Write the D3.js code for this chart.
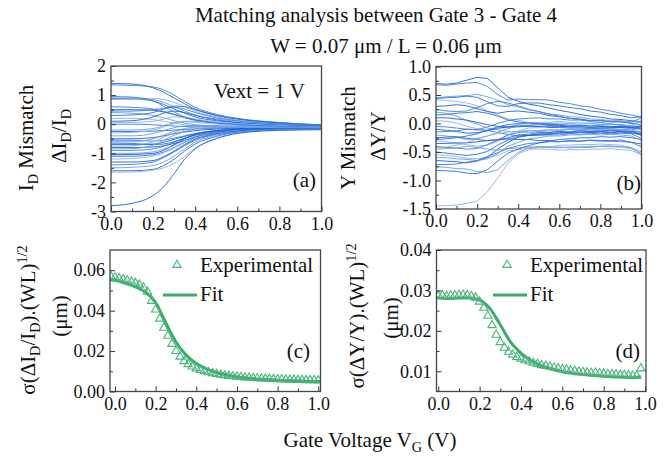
<!DOCTYPE html>
<html>
<head>
<meta charset="utf-8">
<script src="https://cdn.jsdelivr.net/npm/d3@7"></script>
<style>
  body { margin: 0; background: #fff; }
  svg, svg text { font-family: "Liberation Serif", "Times New Roman", Times, "DejaVu Serif", "Noto Serif", serif; }
  svg text { fill: #111; }
</style>
</head>
<body>
<div id="chart"></div>
<script>
const width = 670, height = 460;
const serif = '"Liberation Serif", "Times New Roman", Times, "DejaVu Serif", "Noto Serif", serif';

// ---- panel (a): ΔI_D/I_D mismatch curves ----
const vgA = [0, 0.1, 0.2, 0.25, 0.3, 0.35, 0.4, 0.5, 0.6, 0.8, 1.0];
const curvesA = [
  [1.40, 1.38, 1.25, 1.10, 0.90, 0.70, 0.52, 0.30, 0.18, 0.05, -0.02],
  [1.35, 1.33, 1.28, 1.18, 1.00, 0.78, 0.58, 0.34, 0.20, 0.06, -0.03],
  [0.90, 0.90, 0.85, 0.75, 0.60, 0.45, 0.32, 0.18, 0.10, 0.00, -0.06],
  [0.88, 0.87, 0.80, 0.68, 0.52, 0.38, 0.25, 0.12, 0.05, -0.03, -0.08],
  [0.85, 0.86, 0.88, 0.85, 0.75, 0.60, 0.45, 0.25, 0.14, 0.02, -0.05],
  [0.50, 0.50, 0.48, 0.42, 0.33, 0.22, 0.14, 0.05, 0.00, -0.06, -0.10],
  [0.45, 0.45, 0.50, 0.55, 0.58, 0.52, 0.40, 0.22, 0.12, 0.01, -0.05],
  [0.40, 0.38, 0.30, 0.22, 0.12, 0.04, -0.02, -0.06, -0.08, -0.10, -0.12],
  [0.30, 0.32, 0.40, 0.52, 0.62, 0.60, 0.50, 0.30, 0.18, 0.04, -0.04],
  [0.20, 0.20, 0.16, 0.10, 0.04, -0.02, -0.05, -0.08, -0.10, -0.11, -0.12],
  [0.10, 0.12, 0.25, 0.38, 0.45, 0.40, 0.30, 0.15, 0.06, -0.04, -0.08],
  [0.00, 0.00, -0.02, -0.04, -0.06, -0.08, -0.09, -0.10, -0.11, -0.12, -0.13],
  [-0.20, -0.20, -0.15, -0.05, 0.05, 0.10, 0.10, 0.05, 0.00, -0.06, -0.10],
  [-0.25, -0.25, -0.24, -0.22, -0.20, -0.18, -0.16, -0.14, -0.13, -0.13, -0.14],
  [-0.30, -0.28, -0.20, -0.10, 0.02, 0.08, 0.06, 0.00, -0.04, -0.09, -0.12],
  [-0.50, -0.50, -0.46, -0.40, -0.33, -0.27, -0.22, -0.17, -0.15, -0.14, -0.15],
  [-0.55, -0.55, -0.58, -0.55, -0.48, -0.40, -0.32, -0.22, -0.18, -0.15, -0.16],
  [-0.60, -0.60, -0.50, -0.38, -0.25, -0.15, -0.10, -0.08, -0.09, -0.11, -0.13],
  [-0.70, -0.70, -0.68, -0.62, -0.52, -0.42, -0.33, -0.23, -0.18, -0.15, -0.15],
  [-0.75, -0.74, -0.60, -0.45, -0.30, -0.20, -0.14, -0.10, -0.10, -0.12, -0.14],
  [-0.80, -0.80, -0.78, -0.74, -0.66, -0.55, -0.44, -0.30, -0.22, -0.16, -0.16],
  [-0.90, -0.90, -0.85, -0.76, -0.62, -0.48, -0.36, -0.24, -0.18, -0.14, -0.15],
  [-1.00, -1.00, -0.95, -0.86, -0.72, -0.56, -0.42, -0.27, -0.20, -0.15, -0.15],
  [-1.10, -1.10, -1.05, -0.96, -0.80, -0.62, -0.46, -0.30, -0.21, -0.16, -0.16],
  [-1.20, -1.18, -1.10, -0.98, -0.82, -0.64, -0.48, -0.31, -0.22, -0.16, -0.16],
  [-1.30, -1.30, -1.25, -1.12, -0.92, -0.70, -0.52, -0.33, -0.24, -0.17, -0.17],
  [-1.40, -1.38, -1.30, -1.15, -0.95, -0.74, -0.55, -0.35, -0.25, -0.18, -0.17],
  [-1.50, -1.48, -1.42, -1.30, -1.10, -0.85, -0.62, -0.38, -0.27, -0.19, -0.17],
  [-1.60, -1.60, -1.55, -1.42, -1.20, -0.92, -0.68, -0.42, -0.28, -0.19, -0.18],
  [-1.65, -1.64, -1.58, -1.50, -1.35, -1.10, -0.82, -0.48, -0.30, -0.20, -0.18],
  [-2.80, -2.72, -2.45, -2.15, -1.70, -1.20, -0.85, -0.50, -0.32, -0.21, -0.19],
  [0.60, 0.58, 0.52, 0.44, 0.34, 0.24, 0.16, 0.06, 0.01, -0.05, -0.09],
  [-0.40, -0.40, -0.32, -0.22, -0.12, -0.06, -0.04, -0.05, -0.07, -0.10, -0.12],
  [-0.65, -0.66, -0.70, -0.68, -0.60, -0.48, -0.38, -0.26, -0.19, -0.14, -0.14],
  [0.05, 0.06, 0.10, 0.18, 0.25, 0.24, 0.18, 0.08, 0.02, -0.05, -0.09],
  [-1.05, -1.04, -1.00, -0.90, -0.70, -0.50, -0.35, -0.22, -0.17, -0.14, -0.15],
  [0.95, 0.93, 0.80, 0.62, 0.42, 0.25, 0.14, 0.04, -0.02, -0.07, -0.10],
  [-0.85, -0.84, -0.72, -0.55, -0.38, -0.25, -0.17, -0.12, -0.11, -0.12, -0.13]
];

// ---- panel (b): ΔY/Y mismatch curves ----
const vgB = [0, 0.05, 0.1, 0.15, 0.2, 0.25, 0.3, 0.35, 0.4, 0.45, 0.5, 0.55, 0.6, 0.65, 0.7, 0.75, 0.8, 0.85, 0.9, 0.95, 1.0];
const curvesB = [
  [0.70, 0.69, 0.71, 0.76, 0.81, 0.79, 0.63, 0.46, 0.39, 0.34, 0.31, 0.27, 0.23, 0.20, 0.16, 0.13, 0.11, 0.08, 0.07, 0.05, 0.03],
  [0.68, 0.67, 0.69, 0.71, 0.72, 0.65, 0.51, 0.41, 0.43, 0.42, 0.42, 0.41, 0.37, 0.35, 0.31, 0.29, 0.25, 0.22, 0.18, 0.15, 0.11],
  [0.45, 0.47, 0.48, 0.49, 0.51, 0.47, 0.41, 0.33, 0.29, 0.24, 0.21, 0.17, 0.15, 0.12, 0.11, 0.08, 0.07, 0.05, 0.05, 0.03, 0.02],
  [0.44, 0.45, 0.46, 0.48, 0.46, 0.38, 0.31, 0.30, 0.35, 0.36, 0.36, 0.33, 0.31, 0.28, 0.26, 0.22, 0.20, 0.16, 0.14, 0.10, 0.12],
  [0.42, 0.40, 0.39, 0.36, 0.31, 0.22, 0.15, 0.08, 0.06, 0.02, 0.01, -0.02, -0.02, -0.04, -0.04, -0.05, -0.06, -0.05, -0.07, -0.08, -0.11],
  [0.30, 0.31, 0.33, 0.31, 0.26, 0.21, 0.18, 0.21, 0.22, 0.20, 0.18, 0.14, 0.12, 0.09, 0.08, 0.05, 0.05, 0.03, 0.03, 0.00, -0.02],
  [0.25, 0.22, 0.21, 0.22, 0.28, 0.35, 0.39, 0.36, 0.31, 0.25, 0.21, 0.16, 0.13, 0.09, 0.07, 0.03, 0.02, -0.01, -0.02, -0.05, -0.10],
  [0.20, 0.18, 0.13, 0.05, -0.01, -0.08, -0.11, -0.14, -0.14, -0.16, -0.14, -0.15, -0.13, -0.14, -0.12, -0.13, -0.12, -0.11, -0.13, -0.13, -0.16],
  [0.15, 0.16, 0.18, 0.19, 0.21, 0.18, 0.13, 0.06, 0.03, 0.00, -0.01, -0.03, -0.03, -0.05, -0.04, -0.06, -0.05, -0.06, -0.05, -0.07, -0.05],
  [0.05, 0.04, 0.01, -0.05, -0.09, -0.12, -0.10, -0.06, -0.02, 0.00, 0.02, 0.02, 0.04, 0.02, 0.02, 0.00, -0.01, -0.01, -0.03, -0.03, -0.02],
  [-0.10, -0.12, -0.14, -0.17, -0.16, -0.13, -0.08, -0.06, -0.04, -0.05, -0.05, -0.07, -0.07, -0.08, -0.08, -0.09, -0.09, -0.10, -0.10, -0.12, -0.21],
  [-0.15, -0.14, -0.13, -0.10, -0.11, -0.12, -0.16, -0.19, -0.22, -0.21, -0.21, -0.20, -0.20, -0.18, -0.19, -0.18, -0.17, -0.18, -0.17, -0.18, -0.26],
  [-0.20, -0.22, -0.24, -0.28, -0.26, -0.22, -0.15, -0.09, -0.04, -0.03, -0.01, 0.00, 0.01, 0.00, -0.01, 0.00, -0.02, -0.01, -0.03, -0.04, 0.05],
  [-0.25, -0.24, -0.23, -0.26, -0.28, -0.30, -0.28, -0.25, -0.20, -0.19, -0.16, -0.16, -0.14, -0.15, -0.13, -0.14, -0.13, -0.12, -0.13, -0.14, -0.15],
  [-0.30, -0.32, -0.35, -0.37, -0.40, -0.38, -0.31, -0.20, -0.13, -0.08, -0.07, -0.05, -0.06, -0.04, -0.06, -0.05, -0.07, -0.06, -0.07, -0.09, -0.10],
  [-0.35, -0.35, -0.34, -0.34, -0.32, -0.30, -0.29, -0.27, -0.28, -0.28, -0.30, -0.30, -0.32, -0.30, -0.31, -0.29, -0.30, -0.30, -0.29, -0.33, -0.36],
  [-0.40, -0.42, -0.43, -0.45, -0.44, -0.37, -0.29, -0.20, -0.16, -0.13, -0.13, -0.11, -0.12, -0.10, -0.11, -0.10, -0.10, -0.09, -0.11, -0.12, -0.05],
  [-0.45, -0.44, -0.43, -0.40, -0.42, -0.45, -0.47, -0.44, -0.43, -0.41, -0.42, -0.42, -0.43, -0.41, -0.41, -0.40, -0.40, -0.39, -0.41, -0.42, -0.50],
  [-0.50, -0.52, -0.54, -0.56, -0.54, -0.49, -0.38, -0.29, -0.22, -0.21, -0.19, -0.19, -0.17, -0.17, -0.16, -0.16, -0.15, -0.16, -0.15, -0.17, -0.18],
  [-0.55, -0.56, -0.58, -0.61, -0.62, -0.60, -0.56, -0.48, -0.46, -0.44, -0.45, -0.45, -0.47, -0.46, -0.46, -0.45, -0.45, -0.44, -0.46, -0.47, -0.55],
  [-0.65, -0.66, -0.67, -0.69, -0.66, -0.59, -0.45, -0.33, -0.24, -0.21, -0.18, -0.18, -0.16, -0.16, -0.15, -0.15, -0.14, -0.15, -0.14, -0.16, -0.20],
  [-0.72, -0.72, -0.71, -0.68, -0.65, -0.58, -0.51, -0.44, -0.39, -0.35, -0.34, -0.32, -0.32, -0.31, -0.31, -0.30, -0.31, -0.31, -0.32, -0.33, -0.41],
  [-0.76, -0.77, -0.79, -0.80, -0.84, -0.86, -0.81, -0.65, -0.51, -0.43, -0.40, -0.41, -0.41, -0.43, -0.42, -0.42, -0.40, -0.41, -0.41, -0.44, -0.53],
  [-0.82, -0.83, -0.84, -0.87, -0.88, -0.81, -0.66, -0.52, -0.45, -0.39, -0.34, -0.31, -0.28, -0.27, -0.25, -0.25, -0.23, -0.24, -0.23, -0.25, -0.28],
  [-1.45, -1.44, -1.43, -1.40, -1.36, -1.20, -0.96, -0.70, -0.53, -0.46, -0.42, -0.41, -0.38, -0.38, -0.37, -0.37, -0.36, -0.37, -0.38, -0.42, -0.55],
  [0.10, 0.10, 0.08, 0.06, 0.02, -0.02, -0.05, -0.06, -0.06, -0.04, -0.05, -0.04, -0.05, -0.06, -0.06, -0.07, -0.06, -0.07, -0.07, -0.08, -0.08],
  [-0.05, -0.06, -0.08, -0.10, -0.11, -0.06, 0.00, 0.05, 0.08, 0.09, 0.10, 0.08, 0.08, 0.06, 0.06, 0.05, 0.05, 0.03, 0.03, 0.02, 0.10],
  [-0.60, -0.60, -0.62, -0.63, -0.65, -0.62, -0.53, -0.40, -0.33, -0.27, -0.25, -0.22, -0.22, -0.20, -0.20, -0.19, -0.20, -0.19, -0.20, -0.22, -0.30],
  [-0.28, -0.27, -0.25, -0.22, -0.18, -0.12, -0.06, -0.02, 0.00, 0.01, 0.00, -0.01, -0.02, -0.03, -0.03, -0.04, -0.04, -0.05, -0.05, -0.06, -0.04],
  [-0.42, -0.41, -0.38, -0.33, -0.27, -0.22, -0.18, -0.15, -0.14, -0.12, -0.12, -0.11, -0.11, -0.10, -0.10, -0.10, -0.11, -0.10, -0.11, -0.12, -0.14]
];

// ---- panel (c): σ(ΔI_D/I_D)·√(WL) ----
const expXC = [-0.02, 0, 0.02, 0.04, 0.06, 0.08, 0.1, 0.12, 0.14, 0.16, 0.18, 0.2, 0.22, 0.24, 0.26, 0.28, 0.3, 0.32, 0.34, 0.36,
  0.38, 0.4, 0.42, 0.44, 0.46, 0.48, 0.5, 0.52, 0.54, 0.56, 0.58, 0.6, 0.62, 0.64, 0.66, 0.68, 0.7, 0.72, 0.74, 0.76,
  0.78, 0.8, 0.82, 0.84, 0.86, 0.88, 0.9, 0.92, 0.94, 0.96, 0.98, 1.0];
const expC = [0.0570, 0.0565, 0.0560, 0.0555, 0.0550, 0.0544, 0.0537, 0.0528, 0.0514, 0.0493, 0.0448, 0.0405, 0.0360, 0.0315, 0.0275, 0.0235,
  0.0200, 0.0172, 0.0150, 0.0135, 0.0123, 0.0114, 0.0106, 0.0100, 0.0095, 0.0090, 0.0086, 0.0083, 0.0080, 0.0077, 0.0075, 0.0073,
  0.0071, 0.0069, 0.0068, 0.0066, 0.0065, 0.0064, 0.0063, 0.0062, 0.0061, 0.0060, 0.0060, 0.0059, 0.0058, 0.0058, 0.0057, 0.0057,
  0.0056, 0.0056, 0.0055, 0.0054];
const fitXC = [-0.025, 0, 0.05, 0.1, 0.15, 0.2, 0.25, 0.3, 0.35, 0.4, 0.45, 0.5, 0.6, 0.7, 0.8, 0.9, 1.0, 1.011];
const fitC = [0.0553, 0.0550, 0.0536, 0.0518, 0.0492, 0.0440, 0.0340, 0.0245, 0.0180, 0.0138, 0.0112, 0.0094, 0.0073, 0.0062, 0.0056, 0.0052, 0.0049, 0.0049];

// ---- panel (d): σ(ΔY/Y)·√(WL) ----
const expXD = [0, 0.02, 0.04, 0.06, 0.08, 0.1, 0.12, 0.14, 0.16, 0.18, 0.2, 0.22, 0.24, 0.26, 0.28, 0.3, 0.32, 0.34, 0.36, 0.38,
  0.4, 0.42, 0.44, 0.46, 0.48, 0.5, 0.52, 0.54, 0.56, 0.58, 0.6, 0.62, 0.64, 0.66, 0.68, 0.7, 0.72, 0.74, 0.76, 0.78,
  0.8, 0.82, 0.84, 0.86, 0.88, 0.9, 0.92, 0.94, 0.96, 0.98];
const expD = [0.0287, 0.0288, 0.0286, 0.0287, 0.0288, 0.0289, 0.0289, 0.0288, 0.0286, 0.0282, 0.0272, 0.0257, 0.0237, 0.0214, 0.0190, 0.0172,
  0.0158, 0.0148, 0.0141, 0.0135, 0.0131, 0.0127, 0.0124, 0.0121, 0.0118, 0.0115, 0.0113, 0.0111, 0.0109, 0.0107, 0.0105, 0.0104,
  0.0102, 0.0101, 0.0099, 0.0098, 0.0097, 0.0096, 0.0096, 0.0095, 0.0094, 0.0093, 0.0093, 0.0092, 0.0091, 0.0091, 0.0090, 0.0089,
  0.0089, 0.0107];
const fitXD = [-0.009, 0, 0.05, 0.1, 0.15, 0.2, 0.25, 0.3, 0.35, 0.4, 0.45, 0.5, 0.6, 0.7, 0.8, 0.9, 0.95, 0.98];
const fitD = [0.0281, 0.0281, 0.0280, 0.0281, 0.0281, 0.0276, 0.0255, 0.0215, 0.0172, 0.0145, 0.0126, 0.0114, 0.0099, 0.0092, 0.0088, 0.0085, 0.0084, 0.0087];

const blues = ["#1b5fd8", "#3b7edf", "#6a9ce2", "#2a6cda", "#8db2e6"];
const green = "#3dab6b";

const svg = d3.select("#chart").append("svg")
  .attr("width", width).attr("height", height)
  .attr("font-family", serif);

function rich(t, parts, fs) {
  let shift = 0;
  parts.forEach(([s, k]) => {
    const target = k === "sub" ? fs * 0.25 : k === "sup" ? -fs * 0.4 : 0;
    t.append("tspan").attr("dy", target - shift)
      .attr("font-size", k === "n" ? fs : fs * 0.68).text(s);
    shift = target;
  });
}

function panel(id, box, xd, yd, yMajor, yMinor, xMajor, xMinor, fmtY) {
  const x = d3.scaleLinear().domain(xd).range([box.l, box.r]);
  const y = d3.scaleLinear().domain(yd).range([box.b, box.t]);
  svg.append("clipPath").attr("id", "clip" + id).append("rect")
    .attr("x", box.l).attr("y", box.t).attr("width", box.r - box.l).attr("height", box.b - box.t);
  const data = svg.append("g").attr("clip-path", `url(#clip${id})`);
  const ax = svg.append("g").attr("color", "#333");

  const styleAxis = g => {
    g.select(".domain").remove();
    g.attr("font-family", serif).attr("font-size", 18);
    g.selectAll("text").attr("fill", "#111");
  };
  ax.append("g").attr("transform", `translate(${box.l},0)`)
    .call(d3.axisLeft(y).tickValues(yMajor).tickSizeInner(-5).tickSizeOuter(0).tickPadding(5).tickFormat(fmtY))
    .call(styleAxis);
  ax.append("g").attr("transform", `translate(${box.l},0)`)
    .call(d3.axisLeft(y).tickValues(yMinor).tickSizeInner(-3).tickSizeOuter(0).tickFormat(""))
    .call(styleAxis);
  ax.append("g").attr("transform", `translate(0,${box.b})`)
    .call(d3.axisBottom(x).tickValues(xMajor).tickSizeInner(-5).tickSizeOuter(0).tickPadding(5.5).tickFormat(d => d.toFixed(1)))
    .call(styleAxis);
  ax.append("g").attr("transform", `translate(0,${box.b})`)
    .call(d3.axisBottom(x).tickValues(xMinor).tickSizeInner(-3).tickSizeOuter(0).tickFormat(""))
    .call(styleAxis);
  ax.append("rect")
    .attr("x", box.l).attr("y", box.t).attr("width", box.r - box.l).attr("height", box.b - box.t)
    .attr("fill", "none").attr("stroke", "#444").attr("stroke-width", 1.3);
  return { x, y, data, ax };
}

const xMaj = [0, 0.2, 0.4, 0.6, 0.8, 1.0];
const xMin = [0.1, 0.3, 0.5, 0.7, 0.9];

// (a)
const pa = panel("a", { l: 111, r: 321.5, t: 66, b: 211.5 }, [0, 1], [-3, 2],
  [-3, -2, -1, 0, 1, 2], [-2.5, -1.5, -0.5, 0.5, 1.5], xMaj, xMin, d => String(d));
const lineA = d3.line().x((d, i) => pa.x(vgA[i])).y(d => pa.y(d)).curve(d3.curveMonotoneX);
pa.data.selectAll("path").data(curvesA).join("path")
  .attr("d", lineA).attr("fill", "none")
  .attr("stroke", (d, i) => blues[i % blues.length]).attr("stroke-width", 0.9);

// (b)
const pb = panel("b", { l: 436, r: 641.5, t: 66.5, b: 209 }, [0, 1], [-1.5, 1],
  [-1.5, -1.0, -0.5, 0, 0.5, 1.0], [-1.25, -0.75, -0.25, 0.25, 0.75], xMaj, xMin, d => d.toFixed(1));
const lineB = d3.line().x((d, i) => pb.x(vgB[i])).y(d => pb.y(d));
pb.data.selectAll("path").data(curvesB).join("path")
  .attr("d", lineB).attr("fill", "none")
  .attr("stroke", (d, i) => blues[i % blues.length]).attr("stroke-width", 0.9);

// (c)
const pc = panel("c", { l: 110, r: 320.5, t: 250, b: 391.5 }, [-0.0246, 1.011], [0, 0.07],
  [0, 0.02, 0.04, 0.06], [0.01, 0.03, 0.05], xMaj, xMin, d => d.toFixed(2));
// (d)
const pd = panel("d", { l: 436.5, r: 646, t: 250, b: 391.5 }, [-0.0087, 1.0048], [0.005, 0.04],
  [0.01, 0.02, 0.03, 0.04], [0.015, 0.025, 0.035], xMaj, xMin, d => d.toFixed(2));

const tri = d3.symbol().type(d3.symbolTriangle).size(30);
function sigmaPanel(p, ex, ey, fx, fy) {
  p.data.append("path")
    .datum(fy)
    .attr("d", d3.line().x((d, i) => p.x(fx[i])).y(d => p.y(d)).curve(d3.curveMonotoneX))
    .attr("fill", "none").attr("stroke", green).attr("stroke-width", 3);
  p.data.selectAll("path.tri").data(ey).join("path").attr("class", "tri")
    .attr("d", tri)
    .attr("transform", (d, i) => `translate(${p.x(ex[i])},${p.y(d)})`)
    .attr("fill", "none").attr("stroke", "#4bb47b").attr("stroke-width", 1.1);
}
sigmaPanel(pc, expXC, expC, fitXC, fitC);
sigmaPanel(pd, expXD, expD, fitXD, fitD);

// legends
function legend(tx, ty) {
  svg.append("path").attr("d", tri).attr("transform", `translate(${tx - 23},${ty - 7})`)
    .attr("fill", "none").attr("stroke", "#4bb47b").attr("stroke-width", 1.1);
  svg.append("text").attr("x", tx).attr("y", ty).attr("font-size", 21).text("Experimental");
  svg.append("line").attr("x1", tx - 37).attr("x2", tx - 3).attr("y1", ty + 23).attr("y2", ty + 23)
    .attr("stroke", green).attr("stroke-width", 3);
  svg.append("text").attr("x", tx).attr("y", ty + 29).attr("font-size", 21).text("Fit");
}
legend(200, 272);
legend(530, 272);

// panel tags
const tag = (x, y, s) => svg.append("text").attr("x", x).attr("y", y)
  .attr("text-anchor", "end").attr("font-size", 21).text(s);
tag(316, 187, "(a)");
tag(641, 190, "(b)");
tag(310, 358, "(c)");
tag(640, 358, "(d)");
svg.append("text").attr("x", 305).attr("y", 98).attr("text-anchor", "end")
  .attr("font-size", 21).text("Vext = 1 V");

// titles
svg.append("text").attr("x", 376).attr("y", 22).attr("text-anchor", "middle")
  .attr("font-size", 21).text("Matching analysis between Gate 3 - Gate 4");
svg.append("text").attr("x", 386).attr("y", 53).attr("text-anchor", "middle")
  .attr("font-size", 21).text("W = 0.07 μm / L = 0.06 μm");

// x label
const xl = svg.append("text").attr("x", 370).attr("y", 447).attr("text-anchor", "middle");
rich(xl, [["Gate Voltage V", "n"], ["G", "sub"], [" (V)", "n"]], 21);

// y labels
function ylab(x, y, parts) {
  const t = svg.append("text").attr("text-anchor", "middle")
    .attr("transform", `translate(${x},${y}) rotate(-90)`);
  rich(t, parts, 21);
}
ylab(33, 138, [["I", "n"], ["D", "sub"], [" Mismatch", "n"]]);
ylab(66, 136, [["ΔI", "n"], ["D", "sub"], ["/I", "n"], ["D", "sub"]]);
ylab(355, 138, [["Y Mismatch", "n"]]);
ylab(385, 136, [["ΔY/Y", "n"]]);
ylab(35, 320, [["σ(ΔI", "n"], ["D", "sub"], ["/I", "n"], ["D", "sub"], [").(WL)", "n"], ["1/2", "sup"]]);
ylab(67, 316, [["(μm)", "n"]]);
ylab(364, 316, [["σ(ΔY/Y).(WL)", "n"], ["1/2", "sup"]]);
ylab(398, 318, [["(μm)", "n"]]);
</script>
</body>
</html>
